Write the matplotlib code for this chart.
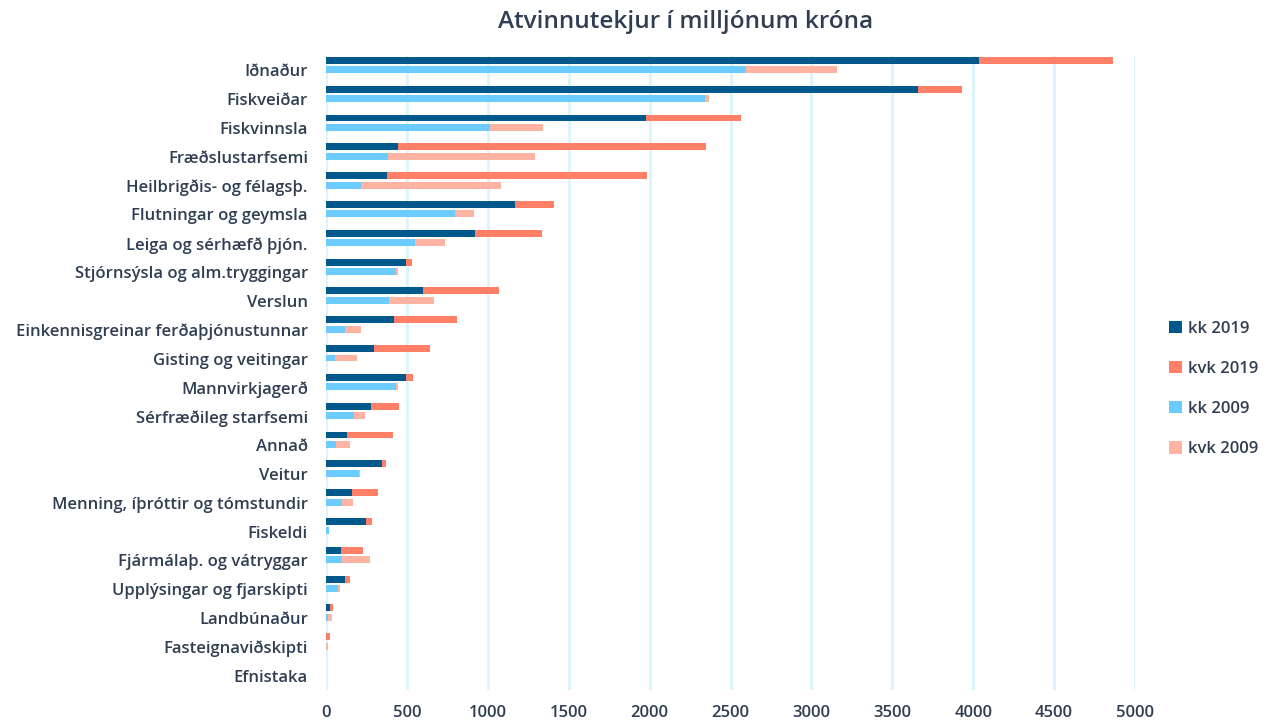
import matplotlib
matplotlib.use("Agg")
import matplotlib.pyplot as plt
import numpy as np

categories = ["Iðnaður", "Fiskveiðar", "Fiskvinnsla", "Fræðslustarfsemi",
              "Heilbrigðis- og félagsþ.", "Flutningar og geymsla",
              "Leiga og sérhæfð þjón.", "Stjórnsýsla og alm.tryggingar",
              "Verslun", "Einkennisgreinar ferðaþjónustunnar",
              "Gisting og veitingar", "Mannvirkjagerð", "Sérfræðileg starfsemi",
              "Annað", "Veitur", "Menning, íþróttir og tómstundir", "Fiskeldi",
              "Fjármálaþ. og vátryggar", "Upplýsingar og fjarskipti",
              "Landbúnaður", "Fasteignaviðskipti", "Efnistaka"]

kk_2019 = [4038, 3658, 1978, 444, 376, 1166, 922, 492, 601, 422, 298, 492, 279,
           130, 347, 161, 250, 91, 116, 23, 2, 1]
kvk_2019 = [829, 273, 584, 1906, 1610, 241, 413, 41, 470, 386, 347, 45, 174,
            283, 23, 159, 35, 140, 31, 18, 20, 1]
kk_2009 = [2598, 2343, 1013, 382, 217, 800, 550, 434, 389, 116, 56, 434, 174,
           60, 203, 99, 16, 101, 76, 11, 3, 2]
kvk_2009 = [558, 25, 326, 912, 866, 113, 186, 14, 281, 99, 138, 14, 66,
            87, 6, 66, 4, 174, 11, 24, 8, 1]

x_ticks = [0, 500, 1000, 1500, 2000, 2500, 3000, 3500, 4000, 4500, 5000]

TEXT = "#2F3E52"
C_KK19 = "#00598A"
C_KVK19 = "#FF8066"
C_KK09 = "#6CCBFF"
C_KVK09 = "#FFB3A3"
GRID = "#D9F4FB"

plt.rcParams['font.family'] = ['Open Sans', 'DejaVu Sans']

fig = plt.figure(figsize=(12.69, 7.2), dpi=100)
ax = fig.add_axes([326 / 1269, 1 - 690 / 720, (1135 - 326) / 1269, (690 - 56) / 720])

n = len(categories)
pos = np.arange(n)
h = 0.24
ax.barh(pos - 0.35, kk_2019, height=h, color=C_KK19, label="kk 2019", zorder=3)
ax.barh(pos - 0.35, kvk_2019, left=kk_2019, height=h, color=C_KVK19, label="kvk 2019", zorder=3)
ax.barh(pos - 0.02, kk_2009, height=h, color=C_KK09, label="kk 2009", zorder=3)
ax.barh(pos - 0.02, kvk_2009, left=kk_2009, height=h, color=C_KVK09, label="kvk 2009", zorder=3)

ax.set_ylim(n - 0.5, -0.5)
ax.set_xlim(0, 5000)
ax.set_yticks(pos)
ax.set_yticklabels(categories, fontsize=12, color=TEXT, fontweight='semibold')
ax.set_xticks(x_ticks)
ax.set_xticklabels([str(t) for t in x_ticks], fontsize=12, color=TEXT, fontweight='semibold')
ax.tick_params(axis='both', length=0)
ax.tick_params(axis='y', pad=13)
ax.tick_params(axis='x', pad=11)
for s in ax.spines.values():
    s.set_visible(False)
ax.xaxis.grid(True, color=GRID, linewidth=2, zorder=0)
ax.set_axisbelow(True)

fig.text(686 / 1269, 1 - 22 / 720, "Atvinnutekjur í milljónum króna",
         ha='center', va='center', fontsize=17.5, fontweight='semibold', color=TEXT)

leg = fig.legend(loc='center left', bbox_to_anchor=(1154 / 1269, 1 - 389 / 720),
                 frameon=False, handlelength=0.75, handleheight=0.75,
                 handletextpad=0.4, labelspacing=1.45,
                 prop={'weight': 'semibold', 'size': 12})
for t in leg.get_texts():
    t.set_color(TEXT)

fig.savefig("out.png", dpi=100)
